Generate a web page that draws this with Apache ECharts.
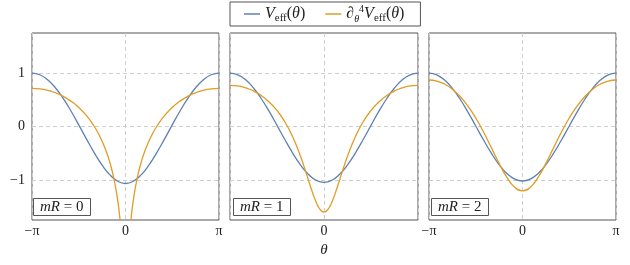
<!DOCTYPE html>
<html>
<head>
<meta charset="utf-8">
<script src="https://cdn.jsdelivr.net/npm/echarts@6/dist/echarts.min.js"></script>
<style>html,body{margin:0;padding:0;background:#fff}#c{width:630px;height:265px}</style>
</head>
<body>
<div id="c"></div>
<script>
// theta in units of pi
const thetaA = [-1, -0.91667, -0.83333, -0.75, -0.66667, -0.58333, -0.5, -0.41667, -0.33333, -0.25, -0.16667, -0.08333, 0,
  0.08333, 0.16667, 0.25, 0.33333, 0.41667, 0.5, 0.58333, 0.66667, 0.75, 0.83333, 0.91667, 1];
const thetaB = [-1, -0.91667, -0.83333, -0.75, -0.66667, -0.58333, -0.5, -0.41667, -0.33333, -0.25, -0.20833, -0.16667, -0.125, -0.08333, -0.04167, 0,
  0.04167, 0.08333, 0.125, 0.16667, 0.20833, 0.25, 0.33333, 0.41667, 0.5, 0.58333, 0.66667, 0.75, 0.83333, 0.91667, 1];
const thetaC = [-1, -0.91667, -0.83333, -0.75, -0.66667, -0.58333, -0.5, -0.41667, -0.33333, -0.29167, -0.25, -0.20833, -0.16667, -0.125, -0.08333, -0.0625, -0.04167, -0.02083,
  0.02083, 0.04167, 0.0625, 0.08333, 0.125, 0.16667, 0.20833, 0.25, 0.29167, 0.33333, 0.41667, 0.5, 0.58333, 0.66667, 0.75, 0.83333, 0.91667, 1];

// mR = 0
const veff0 = [1.0, 0.9683, 0.8749, 0.7251, 0.5268, 0.2909, 0.0313, -0.2362, -0.4938, -0.7231, -0.9061, -1.0249, -1.0666,
  -1.0249, -0.9061, -0.7231, -0.4938, -0.2362, 0.0313, 0.2909, 0.5268, 0.7251, 0.8749, 0.9683, 1.0];
const d4v0 = [0.7130, 0.7041, 0.6773, 0.6315, 0.5650, 0.4749, 0.3565, 0.2024, 0.0, -0.1261, -0.2750, -0.4544, -0.6773, -0.9681, -1.3814, -1.676, -2.0923, -2.80,
  -2.80, -2.0923, -1.676, -1.3814, -0.9681, -0.6773, -0.4544, -0.2750, -0.1261, 0.0, 0.2024, 0.3565, 0.4749, 0.5650, 0.6315, 0.6773, 0.7041, 0.7130];
// mR = 1
const veff1 = [1.0, 0.9677, 0.8728, 0.7204, 0.5195, 0.2817, 0.0216, -0.2441, -0.4974, -0.7200, -0.8943, -1.0057, -1.0440,
  -1.0057, -0.8943, -0.7200, -0.4974, -0.2441, 0.0216, 0.2817, 0.5195, 0.7204, 0.8728, 0.9677, 1.0];
const d4v1 = [0.7698, 0.7587, 0.7243, 0.6654, 0.5787, 0.4597, 0.3004, 0.0889, -0.1909, -0.5559, -0.7698, -0.9966, -1.2208, -1.4167, -1.5526, -1.6016,
  -1.5526, -1.4167, -1.2208, -0.9966, -0.7698, -0.5559, -0.1909, 0.0889, 0.3004, 0.4597, 0.5787, 0.6654, 0.7243, 0.7587, 0.7698];
// mR = 2
const veff2 = [1.0, 0.9669, 0.8695, 0.7139, 0.5097, 0.2700, 0.0102, -0.2523, -0.4995, -0.7138, -0.8797, -0.9845, -1.0204,
  -0.9845, -0.8797, -0.7138, -0.4995, -0.2523, 0.0102, 0.2700, 0.5097, 0.7139, 0.8695, 0.9669, 1.0];
const d4v2 = [0.8701, 0.8515, 0.7948, 0.6989, 0.5618, 0.3819, 0.1587, -0.1040, -0.3947, -0.6901, -0.9532, -1.1381, -1.2050,
  -1.1381, -0.9532, -0.6901, -0.3947, -0.1040, 0.1587, 0.3819, 0.5618, 0.6989, 0.7948, 0.8515, 0.8701];

const panelLabels = ['0', '1', '2'];
const yTicks = [-1, 0, 1];
const seriesNames = ['V', 'D'];

const FONT = 'Liberation Serif';
const BLUE = '#5e81b5', ORANGE = '#e19c24';
const zip = (xs, ys) => xs.map((x, i) => [x, ys[i]]);

const grids = [
  {left: 32, top: 33, width: 187, height: 187},
  {left: 230, top: 33, width: 188, height: 187},
  {left: 429, top: 33, width: 187, height: 187}
].map(g => Object.assign({show: true, borderColor: '#555', borderWidth: 1, backgroundColor: 'transparent'}, g));

const panels = [
  {v: zip(thetaA, veff0), d: zip(thetaC, d4v0)},
  {v: zip(thetaA, veff1), d: zip(thetaB, d4v1)},
  {v: zip(thetaA, veff2), d: zip(thetaA, d4v2)}
];

const xAxes = [0, 1, 2].map(i => ({
  type: 'value', gridIndex: i, min: -1, max: 1, interval: 1,
  axisLine: {show: false}, axisTick: {show: false},
  splitLine: {show: true, lineStyle: {color: '#cfcfcf', type: [4, 3], width: 1}},
  axisLabel: {
    show: true, margin: 4, color: '#222', fontFamily: FONT, fontSize: 14,
    formatter: v => (v < -0.5 ? (i === 1 ? '' : '−π') : v > 0.5 ? (i === 1 ? '' : 'π') : '0')
  },
  name: i === 1 ? 'θ' : '', nameLocation: 'middle', nameGap: 23,
  nameTextStyle: {fontFamily: FONT, fontStyle: 'italic', fontSize: 15, color: '#222'}
}));

const yAxes = [0, 1, 2].map(i => ({
  type: 'value', gridIndex: i, min: -1.75, max: 1.75,
  axisLine: {show: false}, axisTick: {show: false}, splitLine: {show: false},
  axisLabel: {
    show: i === 0, customValues: yTicks, margin: 7, color: '#222', fontFamily: FONT, fontSize: 14,
    formatter: v => (v < 0 ? '−' + Math.abs(v) : String(v))
  }
}));

const series = [];
panels.forEach((p, i) => {
  series.push({
    name: seriesNames[0], type: 'line', xAxisIndex: i, yAxisIndex: i, data: p.v,
    showSymbol: false, symbol: 'none', smooth: 0.5, clip: true, z: 3,
    lineStyle: {color: BLUE, width: 1.3}, itemStyle: {color: BLUE},
    markLine: {
      z: 1, silent: true, symbol: ['none', 'none'], label: {show: false},
      lineStyle: {color: '#cfcfcf', type: [4, 3], width: 1},
      emphasis: {disabled: true},
      data: yTicks.map(t => ({yAxis: t}))
    }
  });
  series.push({
    name: seriesNames[1], type: 'line', xAxisIndex: i, yAxisIndex: i, data: p.d,
    showSymbol: false, symbol: 'none', smooth: 0.5, clip: true, z: 3,
    lineStyle: {color: ORANGE, width: 1.3}, itemStyle: {color: ORANGE}
  });
});

const richBase = {
  v: {fontFamily: FONT, fontStyle: 'italic', fontSize: 16, lineHeight: 20, color: '#222'},
  n: {fontFamily: FONT, fontSize: 16, lineHeight: 20, color: '#222'},
  ni: {fontFamily: FONT, fontStyle: 'italic', fontSize: 16, lineHeight: 20, color: '#222'},
  s: {fontFamily: FONT, fontSize: 11, lineHeight: 12, verticalAlign: 'bottom', color: '#222'},
  si: {fontFamily: FONT, fontStyle: 'italic', fontSize: 10, lineHeight: 11, verticalAlign: 'bottom', color: '#222'},
  sp: {fontFamily: FONT, fontSize: 10, lineHeight: 11, verticalAlign: 'top', color: '#222'}
};

const titles = panelLabels.map((lab, i) => ({
  text: '{i|mR} = ' + lab,
  left: [33, 233, 431][i], top: 198,
  padding: [2, 7, 1, 7],
  borderColor: '#555', borderWidth: 1, backgroundColor: '#fff',
  textStyle: {
    fontFamily: FONT, fontSize: 15, fontWeight: 'normal', color: '#222',
    rich: {i: {fontFamily: FONT, fontStyle: 'italic', fontSize: 15, color: '#222'}}
  }
}));

const option = {
  animation: false,
  backgroundColor: '#fff',
  title: titles,
  legend: {
    left: 230, top: 2,
    data: seriesNames,
    icon: 'rect', itemWidth: 16, itemHeight: 1.5, itemGap: 20,
    padding: [2, 16, 2, 14],
    borderColor: '#555', borderWidth: 1,
    selectedMode: false,
    formatter: name => name === 'V'
      ? '{v|V}{s|eff}{n|(}{ni|θ}{n|)}'
      : '{ni|∂}{si|θ}{sp|4}{v|V}{s|eff}{n|(}{ni|θ}{n|)}',
    textStyle: {fontFamily: FONT, fontSize: 16, color: '#222', rich: richBase}
  },
  grid: grids,
  xAxis: xAxes,
  yAxis: yAxes,
  series: series
};

const chart = echarts.init(document.getElementById('c'), null, {renderer: 'canvas'});
chart.setOption(option);
</script>
</body>
</html>
